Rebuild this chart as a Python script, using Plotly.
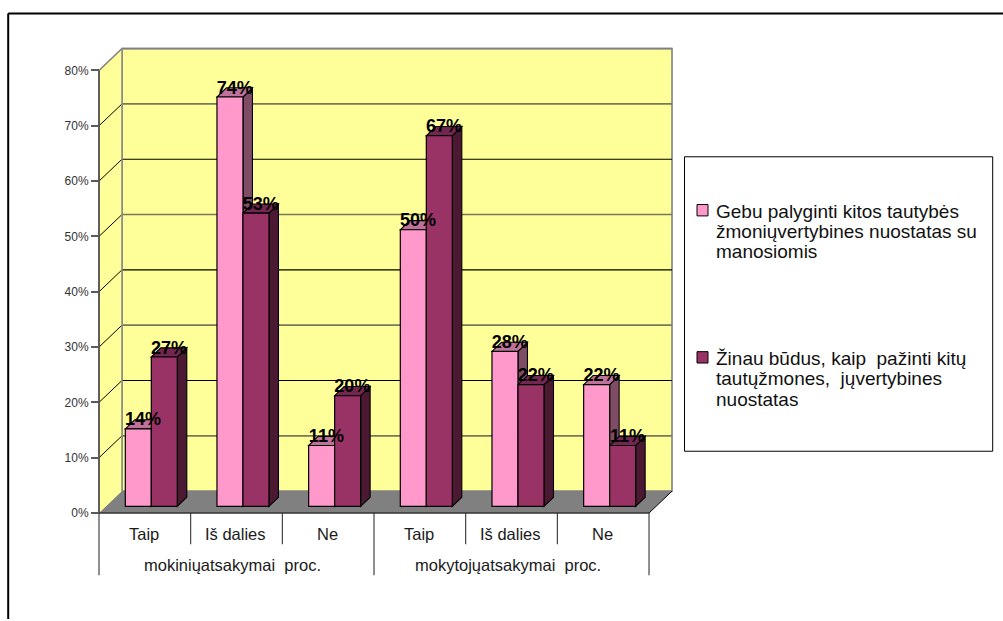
import plotly.graph_objects as go

# Survey answers, percent
groups = ["mokiniųatsakymai\u00a0 proc.", "mokytojųatsakymai\u00a0 proc."]
categories = ["Taip", "Iš dalies", "Ne", "Taip", "Iš dalies", "Ne"]
series_a = [14, 74, 11, 50, 28, 22]
series_b = [27, 53, 20, 67, 22, 11]
legend_a = ["Gebu palyginti kitos tautybės", "žmoniųvertybines nuostatas su", "manosiomis"]
legend_b = ["Žinau būdus, kaip\u00a0 pažinti kitų", "tautųžmones,\u00a0 jųvertybines", "nuostatas"]
y_ticks = [0, 10, 20, 30, 40, 50, 60, 70, 80]

W, H = 1003, 621
PINK = dict(front="#FF99CC", top="#BF7299", side="#7F4C66")
PLUM = dict(front="#993366", top="#732650", side="#4C1933")
WALL = "#FFFF99"
FLOOR = "#808080"

# Pixel scale of the value and category axes
X0, CAT = 99.0, 91.67
Y0, PCT = 514.7, 5.55
LEFT, RIGHT, TOP, BOTTOM = 90, 680, 45, 520


def ux(px):
    return (px - X0) / CAT


def uy(px):
    return (Y0 - px) / PCT


# Oblique projection offsets in axis units
WALL_DX, WALL_DY = 23 / CAT, 22 / PCT
BAR_X0, BAR_W = 26.3 / CAT, 26 / CAT
BAR_BASE = 6.7 / PCT
BAR_DX, BAR_DY = 9.5 / CAT, 9.2 / PCT
N = len(categories)


def poly(points, fill, line="rgba(0,0,0,0)", width=0):
    path = "M " + " L ".join(f"{x:.4f} {y:.4f}" for x, y in points) + " Z"
    return dict(type="path", path=path, xref="x", yref="y", fillcolor=fill,
                line=dict(color=line, width=width), layer="below")


def seg(x0, y0, x1, y1, color, width=1.0, xref="x", yref="y", layer="below"):
    return dict(type="line", x0=x0, y0=y0, x1=x1, y1=y1, xref=xref, yref=yref,
                line=dict(color=color, width=width), layer=layer)


shapes = []
# Walls and floor
shapes.append(poly([(WALL_DX, WALL_DY), (N + WALL_DX, WALL_DY), (N + WALL_DX, 80 + WALL_DY), (WALL_DX, 80 + WALL_DY)],
                   WALL, "#808080", 1.6))
shapes.append(poly([(0, 0), (WALL_DX, WALL_DY), (WALL_DX, 80 + WALL_DY), (0, 80)], WALL))
shapes.append(poly([(0, 0), (N, 0), (N + WALL_DX, WALL_DY), (WALL_DX, WALL_DY)], FLOOR))

# Gridlines across both walls
for t in y_ticks[1:]:
    dark = t in (20, 40, 60)
    color, width = ("#000000", 1.1) if dark else ("#77775A", 1.7)
    if t == 80:
        color = "#808080"
    shapes.append(seg(WALL_DX, t + WALL_DY, N + WALL_DX, t + WALL_DY, color, width))
    shapes.append(seg(0, t, WALL_DX, t + WALL_DY, "#000000" if t < 80 else "#808080", 1.0 if t < 80 else 1.6))

# Wall edges
shapes.append(seg(WALL_DX, WALL_DY, WALL_DX, 80 + WALL_DY, "#8C8C8C", 1.6))
shapes.append(seg(N, 0, N + WALL_DX, WALL_DY, "#000000", 1.0))
shapes.append(seg(0, 0, 0, 80, "#4D4D4D", 1.8))
shapes.append(seg(0, 0, N, 0, "#333333", 1.5))

# Side and top faces of the columns, drawn back to front under the front faces
x_a = [i + BAR_X0 for i in range(N)]
x_b = [x + BAR_W for x in x_a]
for xs, values, tone in ((x_a, series_a, PINK), (x_b, series_b, PLUM)):
    for x, v in zip(xs, values):
        top = BAR_BASE + v
        r = x + BAR_W
        shapes.append(poly([(r, BAR_BASE), (r + BAR_DX, BAR_BASE + BAR_DY), (r + BAR_DX, top + BAR_DY), (r, top)],
                           tone["side"], "#000000", 1.1))
        shapes.append(poly([(x, top), (r, top), (r + BAR_DX, top + BAR_DY), (x + BAR_DX, top + BAR_DY)],
                           tone["top"], "#000000", 1.1))

# Category dividers below the floor
paper_y = lambda px: 1 - px / H
for i in range(N + 1):
    is_group = i in (0, 3, 6)
    shapes.append(seg(i, paper_y(514.7), i, paper_y(577 if is_group else 546), "#333333", 1.1, "x", "paper", "above"))

# Outer frame: left and top rules only
shapes.append(seg(8.2 / W, 0, 8.2 / W, paper_y(13.5), "#000000", 2, "paper", "paper", "above"))
shapes.append(seg(8.2 / W, paper_y(13.5), 1, paper_y(13.5), "#000000", 2, "paper", "paper", "above"))

# Legend panel
shapes.append(dict(type="rect", xref="paper", yref="paper", x0=684.5 / W, x1=992.7 / W,
                   y0=paper_y(452.7), y1=paper_y(157.3), fillcolor="#FFFFFF",
                   line=dict(color="#000000", width=1), layer="above"))
swatches = [(205.2, PINK["front"]), (352.8, PLUM["front"])]
for top_px, color in swatches:
    shapes.append(dict(type="rect", xref="paper", yref="paper", x0=697 / W, x1=708 / W,
                       y0=paper_y(top_px + 11.4), y1=paper_y(top_px), fillcolor=color,
                       line=dict(color="#000000", width=1), layer="above"))

annotations = []
for i, label in enumerate(categories):
    annotations.append(dict(x=i + 0.49, y=paper_y(535.7), xref="x", yref="paper", text=label, showarrow=False,
                            font=dict(family="Liberation Sans", size=16.5, color="#1A1A1A"),
                            xanchor="center", yanchor="middle"))
for i, label in enumerate(groups):
    annotations.append(dict(x=3 * i + 1.46, y=paper_y(566.7), xref="x", yref="paper", text=label, showarrow=False,
                            font=dict(family="Liberation Sans", size=16.5, color="#1A1A1A"),
                            xanchor="center", yanchor="middle"))
for lines, ys in ((legend_a, (211.7, 231.8, 252.7)), (legend_b, (359.3, 379.5, 400.7))):
    for line, y_px in zip(lines, ys):
        annotations.append(dict(x=713.5 / W, y=paper_y(y_px), xref="paper", yref="paper", text=line, showarrow=False,
                                font=dict(family="Liberation Sans", size=19, color="#111111"),
                                xanchor="left", yanchor="middle"))

fig = go.Figure()
fig.add_bar(name=" ".join(legend_a), x=[x + BAR_W / 2 for x in x_a], y=series_a, base=BAR_BASE, width=BAR_W,
            marker=dict(color=PINK["front"], line=dict(color="#000000", width=1.2)), showlegend=False)
fig.add_bar(name=" ".join(legend_b), x=[x + BAR_W / 2 for x in x_b], y=series_b, base=BAR_BASE, width=BAR_W,
            marker=dict(color=PLUM["front"], line=dict(color="#000000", width=1.2)), showlegend=False)

# Value labels sit over each column's top face
for xs, values in ((x_a, series_a), (x_b, series_b)):
    fig.add_scatter(x=[x + BAR_W / 2 + BAR_DX / 2 for x in xs],
                    y=[BAR_BASE + v + 8 / PCT for v in values],
                    text=[f"{v}%" for v in values], mode="text", textposition="middle center", cliponaxis=False,
                    textfont=dict(family="Liberation Sans", size=18, color="#000000", weight=700),
                    showlegend=False, hoverinfo="skip")

fig.update_layout(
    width=W, height=H, margin=dict(l=0, r=0, t=0, b=0, pad=0), autosize=False,
    paper_bgcolor="#FFFFFF", plot_bgcolor="rgba(0,0,0,0)", barmode="overlay", showlegend=False,
    shapes=shapes, annotations=annotations,
    font=dict(family="Liberation Sans"),
    xaxis=dict(domain=[LEFT / W, RIGHT / W], range=[ux(LEFT), ux(RIGHT)], showgrid=False, zeroline=False,
               showticklabels=False, ticks="", showline=False, fixedrange=True),
    yaxis=dict(domain=[1 - BOTTOM / H, 1 - TOP / H], range=[uy(BOTTOM), uy(TOP)], anchor="free", position=X0 / W,
               showgrid=False, zeroline=False, showline=False, tickvals=y_ticks,
               ticktext=[f"{t}%" for t in y_ticks], ticks="outside", ticklen=8, tickwidth=1.5, tickcolor="#5A5A5A",
               tickfont=dict(family="Liberation Sans", size=12, color="#333333"), fixedrange=True),
)
fig.write_html("out.html")
